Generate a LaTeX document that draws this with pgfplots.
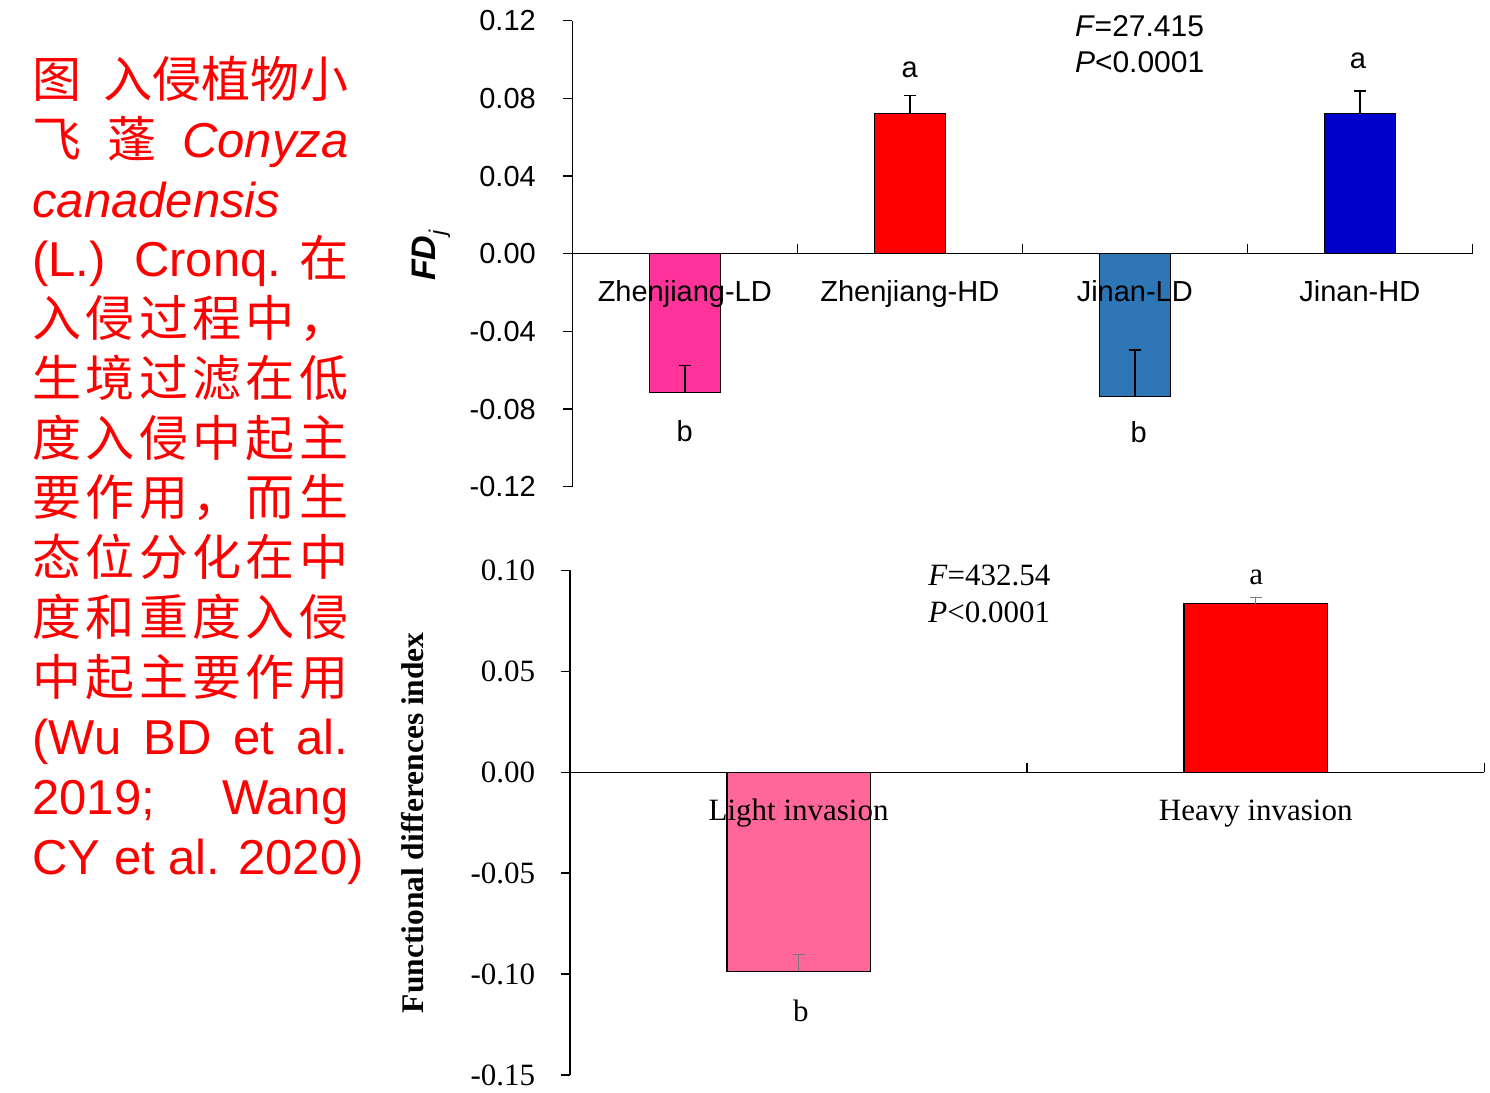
\documentclass[border=0pt]{standalone}
\usepackage{fontspec}
\setmainfont{Liberation Sans}
\newfontfamily\arialf{Liberation Sans}
\newfontfamily\timesf{Liberation Serif}
\newfontfamily\cjk{Noto Sans CJK SC}
\usepackage{pgfplots}
\pgfplotsset{compat=1.18}

\definecolor{zhld}{RGB}{255,51,153}
\definecolor{zhhd}{RGB}{255,0,0}
\definecolor{jnld}{RGB}{46,117,182}
\definecolor{jnhd}{RGB}{0,0,204}
\definecolor{lightinv}{RGB}{255,102,153}
\definecolor{errgray}{RGB}{120,120,120}

\pgfplotsset{
  fdaxis/.style={
    scale only axis, clip=false, axis on top,
    axis x line*=middle, axis y line*=left,
    hide obscured x ticks=false, hide obscured y ticks=false,
    axis line style={line width=0.7pt},
    xtick align=inside, ytick align=outside,
    major tick length=4.75pt,
    tick style={black, line width=0.7pt},
  },
  fdbar/.style={ybar, bar shift=0pt, draw=black, line width=0.7pt,
    error bars/y dir=plus, error bars/y explicit,
    error bars/error bar style={line width=0.7pt},
    error bars/error mark options={rotate=90, mark size=3pt, line width=0.7pt}},
}

% caption lines: 158pt wide, baselines 29.885pt apart
\newcommand\capline[2]{\node[anchor=base west, inner sep=0pt, text=red,
  font=\arialf\fontsize{24.5}{29}\selectfont] at (16pt,{-48.75pt-29.885pt*(#1-1)}) {#2};}
\newcommand\cjline[6]{\makebox[158pt][s]{\cjk #1\hfill#2\hfill#3\hfill#4\hfill#5\hfill#6}}

\begin{document}
\begin{tikzpicture}
\path[use as bounding box] (0,0) rectangle (745pt,-546.5pt);

\capline{1}{\makebox[158pt][s]{\cjk 图\hfill 入侵植物小}}
\capline{2}{\makebox[158pt][s]{{\cjk 飞}\hfill{\cjk 蓬}\hfill\itshape Conyza}}
\capline{3}{\itshape canadensis}
\capline{4}{\makebox[158pt][s]{(L.)\hfill Cronq. {\cjk 在}}}
\capline{5}{\cjline{入}{侵}{过}{程}{中}{，}}
\capline{6}{\cjline{生}{境}{过}{滤}{在}{低}}
\capline{7}{\cjline{度}{入}{侵}{中}{起}{主}}
\capline{8}{\cjline{要}{作}{用}{，}{而}{生}}
\capline{9}{\cjline{态}{位}{分}{化}{在}{中}}
\capline{10}{\cjline{度}{和}{重}{度}{入}{侵}}
\capline{11}{\cjline{中}{起}{主}{要}{作}{用}}
\capline{12}{\makebox[158pt][s]{(Wu BD et al.}}
\capline{13}{\makebox[158pt][s]{2019; Wang}}
\capline{14}{CY et al. 2020)}

% top panel: FDj by site and density
\begin{axis}[fdaxis,
  at={(286.15pt,-243.35pt)}, anchor=south west,
  width=450pt, height=233pt,
  xmin=-0.5, xmax=3.5, ymin=-0.12, ymax=0.12,
  xtick={0.5,1.5,2.5,3.5},
  xticklabels={Zhenjiang-LD,Zhenjiang-HD,Jinan-LD,Jinan-HD},
  ytick={-0.12,-0.08,-0.04,0,0.04,0.08,0.12},
  yticklabels={-0.12,-0.08,-0.04,0.00,0.04,0.08,0.12},
  tick label style={font=\arialf\fontsize{14.5}{17}\selectfont},
  xticklabel style={anchor=base, inner sep=0pt, xshift=-56.25pt, yshift=-23.7pt},
  yticklabel style={anchor=east, inner sep=0pt, xshift=-13.3pt},
  ylabel={\arialf\fontsize{17}{20}\selectfont\bfseries\itshape FD\raisebox{-0.3em}{\fontsize{11.5}{13}\selectfont\mdseries j}},
  every axis y label/.style={at={([xshift=-70.65pt,yshift=-1pt]rel axis cs:0,0.5)}, rotate=90, anchor=center},
]
\addplot[fdbar, fill=zhld, bar width=35.5pt] coordinates {(0,-0.0714) +- (0,0.0137)};
\addplot[fdbar, fill=zhhd, bar width=35.5pt] coordinates {(1,0.0721) +- (0,0.0094)};
\addplot[fdbar, fill=jnld, bar width=35.5pt] coordinates {(2,-0.0735) +- (0,0.0239)};
\addplot[fdbar, fill=jnhd, bar width=35.5pt] coordinates {(3,0.0721) +- (0,0.0117)};
\end{axis}

% bottom panel: light vs heavy invasion
\begin{axis}[fdaxis,
  at={(285pt,-537.5pt)}, anchor=south west,
  width=457.15pt, height=252.3pt,
  xmin=-0.5, xmax=1.5, ymin=-0.15, ymax=0.10,
  xtick={0.5,1.5},
  xticklabels={Light invasion,Heavy invasion},
  ytick={-0.15,-0.10,-0.05,0,0.05,0.10},
  yticklabels={-0.15,-0.10,-0.05,0.00,0.05,0.10},
  tick label style={font=\timesf\fontsize{15.5}{18}\selectfont},
  xticklabel style={anchor=base, inner sep=0pt, xshift=-114.29pt, yshift=-24.15pt},
  yticklabel style={anchor=east, inner sep=0pt, xshift=-12.5pt},
  ylabel={\timesf\fontsize{15.75}{18}\selectfont\bfseries Functional differences index},
  every axis y label/.style={at={([xshift=-78.75pt]rel axis cs:0,0.5)}, rotate=90, anchor=center},
]
\addplot[fdbar, fill=lightinv, bar width=71.7pt,
  error bars/error bar style={errgray}, error bars/error mark options={rotate=90, mark size=3pt, line width=0.7pt, errgray}]
  coordinates {(0,-0.0987) +- (0,0.0083)};
\addplot[fdbar, fill=zhhd, bar width=71.7pt,
  error bars/error bar style={errgray}, error bars/error mark options={rotate=90, mark size=3pt, line width=0.7pt, errgray}]
  coordinates {(1,0.0835) +- (0,0.0032)};
\end{axis}

% significance letters and test statistics
\begin{scope}[every node/.style={inner sep=0pt}]
\node[anchor=base, font=\arialf\fontsize{14.5}{17}\selectfont] at (454.9pt,-38.5pt) {a};
\node[anchor=base, font=\arialf\fontsize{14.5}{17}\selectfont] at (679pt,-34.15pt) {a};
\node[anchor=base, font=\arialf\fontsize{14.5}{17}\selectfont] at (342.35pt,-220.85pt) {b};
\node[anchor=base, font=\arialf\fontsize{14.5}{17}\selectfont] at (569.35pt,-221.35pt) {b};
\node[anchor=base west, font=\arialf\fontsize{15}{18}\selectfont] at (537.3pt,-18pt) {\textit{F}=27.415};
\node[anchor=base west, font=\arialf\fontsize{15}{18}\selectfont] at (537.3pt,-36.35pt) {\textit{P}<0.0001};
\node[anchor=base, font=\timesf\fontsize{15.5}{18}\selectfont] at (628.15pt,-292pt) {a};
\node[anchor=base, font=\timesf\fontsize{15.5}{18}\selectfont] at (400.4pt,-510.85pt) {b};
\node[anchor=base west, font=\timesf\fontsize{15.5}{18}\selectfont] at (464pt,-292.5pt) {\textit{F}=432.54};
\node[anchor=base west, font=\timesf\fontsize{15.5}{18}\selectfont] at (464pt,-311.35pt) {\textit{P}<0.0001};
\end{scope}
\end{tikzpicture}
\end{document}
